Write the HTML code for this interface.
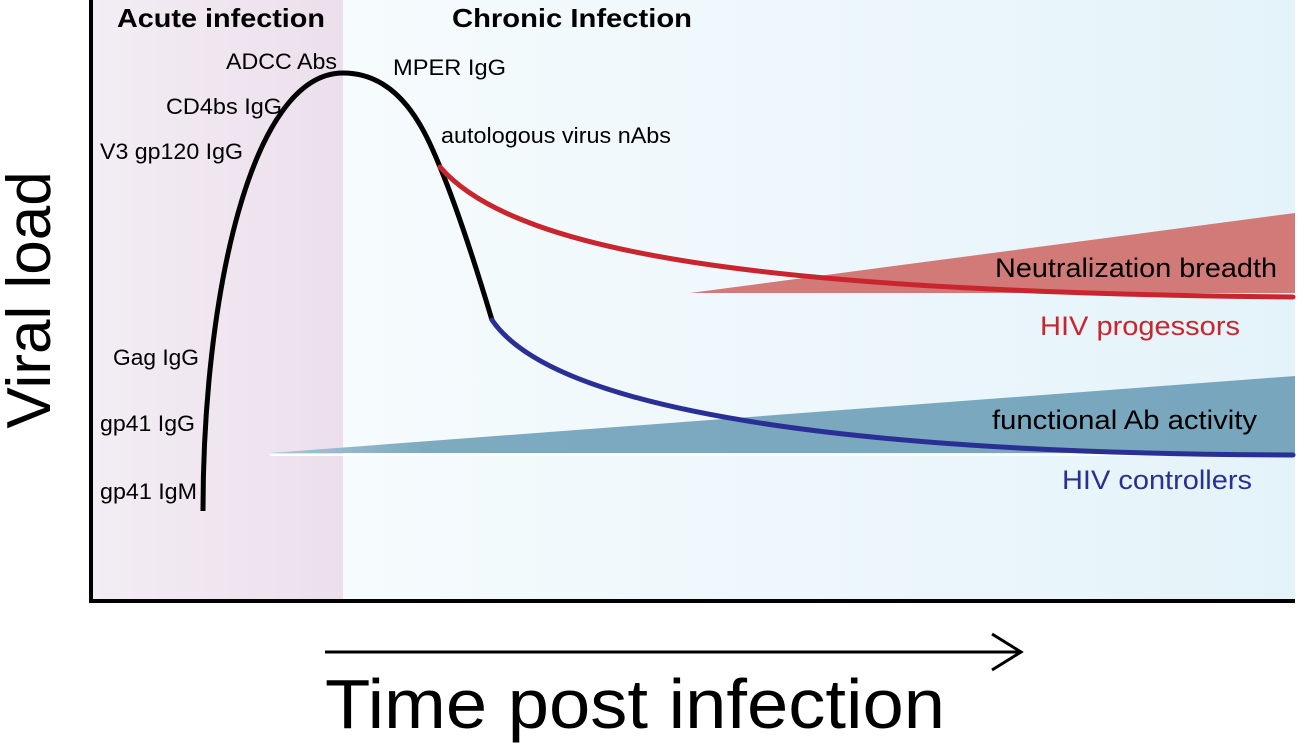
<!DOCTYPE html>
<html><head><meta charset="utf-8"><style>
html,body{margin:0;padding:0;background:#fff;}
svg{display:block;font-family:"Liberation Sans",Arial,sans-serif;}
</style></head><body>
<svg width="1299" height="745" viewBox="0 0 1299 745">
<defs>
<linearGradient id="acute" x1="0" x2="1" y1="0" y2="0"><stop offset="0" stop-color="#f3edf4"/><stop offset="1" stop-color="#ecdfec"/></linearGradient>
<linearGradient id="chronic" x1="0" x2="1" y1="0" y2="0"><stop offset="0" stop-color="#f6fbfd"/><stop offset="1" stop-color="#e4f3fa"/></linearGradient>
<linearGradient id="tealg" x1="0" x2="1"><stop offset="0" stop-color="#a9c6d6"/><stop offset="0.15" stop-color="#7eaac0"/><stop offset="1" stop-color="#77a6bd"/></linearGradient>
</defs>
<rect x="92" y="0" width="251" height="601" fill="url(#acute)"/>
<rect x="343" y="0" width="952" height="601" fill="url(#chronic)"/>
<polygon points="690,293 1295,213 1295,293" fill="#d27a77"/>
<polygon points="270,453 1295,376 1295,453" fill="url(#tealg)"/>
<line x1="270" y1="455" x2="1295" y2="455" stroke="#fff" stroke-width="2"/>
<path d="M203,511 C203,300 250,73 343,73 C400,73 425,130 440,167 C460,215 480,280 492,320" fill="none" stroke="#000" stroke-width="5"/>
<path d="M440,167 C520,260 800,292 1293,297" fill="none" stroke="#c9252f" stroke-width="5" stroke-linecap="round"/>
<path d="M492,320 C560,420 900,454 1293,455" fill="none" stroke="#2a2f95" stroke-width="5" stroke-linecap="round"/>
<path d="M91,0 V601 H1295" fill="none" stroke="#000" stroke-width="4"/>
<g font-size="22" fill="#000">
<text x="117" y="27" font-weight="bold" font-size="26" textLength="208" lengthAdjust="spacingAndGlyphs">Acute infection</text>
<text x="452" y="27" font-weight="bold" font-size="26" textLength="240" lengthAdjust="spacingAndGlyphs">Chronic Infection</text>
<text x="226" y="69" textLength="111" lengthAdjust="spacingAndGlyphs">ADCC Abs</text>
<text x="393" y="75" textLength="113" lengthAdjust="spacingAndGlyphs">MPER IgG</text>
<text x="166" y="114" textLength="116" lengthAdjust="spacingAndGlyphs">CD4bs IgG</text>
<text x="100" y="159" textLength="143" lengthAdjust="spacingAndGlyphs">V3 gp120 IgG</text>
<text x="441" y="143" textLength="230" lengthAdjust="spacingAndGlyphs">autologous virus nAbs</text>
<text x="113" y="365" textLength="86" lengthAdjust="spacingAndGlyphs">Gag IgG</text>
<text x="100" y="431" textLength="95" lengthAdjust="spacingAndGlyphs">gp41 IgG</text>
<text x="100" y="499" textLength="97" lengthAdjust="spacingAndGlyphs">gp41 IgM</text>
</g>
<text x="995" y="277" font-size="27" textLength="282" lengthAdjust="spacingAndGlyphs">Neutralization breadth</text>
<text x="1040" y="335" font-size="27" textLength="200" lengthAdjust="spacingAndGlyphs" fill="#c9252f">HIV progessors</text>
<text x="992" y="429" font-size="27" textLength="265" lengthAdjust="spacingAndGlyphs">functional Ab activity</text>
<text x="1062" y="489" font-size="27" textLength="190" lengthAdjust="spacingAndGlyphs" fill="#2a2f95">HIV controllers</text>
<text transform="translate(50,300) rotate(-90)" text-anchor="middle" font-size="62">Viral load</text>
<line x1="325" y1="652" x2="1020" y2="652" stroke="#000" stroke-width="3"/>
<polyline points="992,634 1021,652 992,670" fill="none" stroke="#000" stroke-width="3"/>
<text x="325" y="728" font-size="70" textLength="620" lengthAdjust="spacingAndGlyphs">Time post infection</text>
</svg>
</body></html>
